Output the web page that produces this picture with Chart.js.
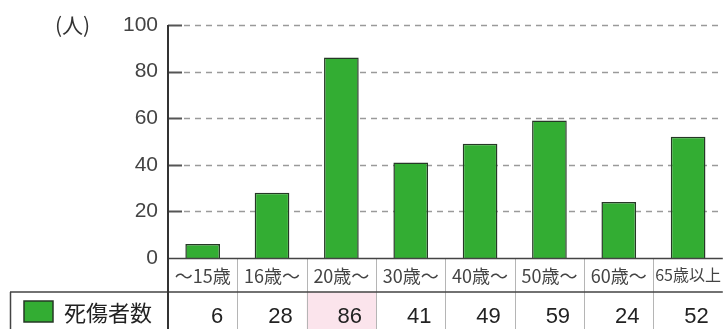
<!DOCTYPE html>
<html>
<head>
<meta charset="utf-8">
<script src="https://cdn.jsdelivr.net/npm/chart.js@4"></script>
<style>
  html, body { margin: 0; padding: 0; background: #fff; }
  #wrap { width: 728px; height: 329px; position: relative; }
</style>
</head>
<body>
<div id="wrap"><canvas id="chart" width="728" height="329"></canvas></div>
<script>
// age groups and casualty counts
const ageGroups = ['～15歳', '16歳～', '20歳～', '30歳～', '40歳～', '50歳～', '60歳～', '65歳以上'];
const casualties = [6, 28, 86, 41, 49, 59, 24, 52];
const yTicks = [0, 20, 40, 60, 80, 100];
const seriesLabel = '死傷者数';
const unitLabel = '(人)';
const highlightIndex = 2; // pink cell under 20歳～

const barGreen = '#33ad33';
const barEdge = '#263826';
const cjk = '"Noto Sans CJK JP", "Noto Sans", sans-serif';
const latin = '"Liberation Sans", Arial, sans-serif';

const tablePlugin = {
  id: 'tablePlugin',
  beforeDatasetsDraw(chart) {
    const ctx = chart.ctx;
    const area = chart.chartArea;
    const x = chart.scales.x;
    const y = chart.scales.y;
    const rowTop = area.bottom + 34;
    const H = chart.height;
    const colW = x.getPixelForValue(1) - x.getPixelForValue(0);

    ctx.save();
    // pink highlight cell
    const hx = x.getPixelForValue(highlightIndex) - colW / 2;
    ctx.fillStyle = '#fbe4ec';
    ctx.fillRect(hx, rowTop, colW, H - rowTop);

    // dashed gridlines with short solid ticks
    yTicks.forEach(v => {
      if (v === 0) return;
      const py = Math.round(y.getPixelForValue(v)) + 0.5;
      ctx.setLineDash([6, 5]);
      ctx.strokeStyle = '#9a9a9a';
      ctx.lineWidth = 1.5;
      ctx.beginPath();
      ctx.moveTo(area.left + 16, py);
      ctx.lineTo(area.right, py);
      ctx.stroke();
      ctx.setLineDash([]);
      ctx.strokeStyle = '#555';
      ctx.lineWidth = 2;
      ctx.beginPath();
      ctx.moveTo(area.left, py);
      ctx.lineTo(area.left + 14, py);
      ctx.stroke();
    });
    ctx.restore();
  },
  afterDatasetsDraw(chart) {
    const ctx = chart.ctx;
    const area = chart.chartArea;
    const x = chart.scales.x;
    const y = chart.scales.y;
    const rowTop = area.bottom + 34;
    const H = chart.height;
    const colW = x.getPixelForValue(1) - x.getPixelForValue(0);

    ctx.save();
    // vertical separators in the table rows
    ctx.strokeStyle = '#b5b5b5';
    ctx.lineWidth = 1;
    for (let i = 1; i < ageGroups.length; i++) {
      const px = Math.round(x.getPixelForValue(i) - colW / 2) + 0.5;
      ctx.beginPath();
      ctx.moveTo(px, area.bottom);
      ctx.lineTo(px, H);
      ctx.stroke();
    }

    // table horizontal borders
    ctx.strokeStyle = '#444';
    ctx.lineWidth = 1.5;
    ctx.beginPath();
    ctx.moveTo(area.left, area.bottom + 0.5);
    ctx.lineTo(area.right, area.bottom + 0.5);
    ctx.stroke();
    ctx.beginPath();
    ctx.moveTo(10, rowTop);
    ctx.lineTo(area.right, rowTop);
    ctx.moveTo(10.5, rowTop);
    ctx.lineTo(10.5, H);
    ctx.stroke();

    // y axis line through the table
    ctx.strokeStyle = '#333';
    ctx.lineWidth = 2;
    ctx.beginPath();
    ctx.moveTo(area.left, y.getPixelForValue(100));
    ctx.lineTo(area.left, H);
    ctx.stroke();

    // values row
    ctx.fillStyle = '#222';
    ctx.font = '22px ' + latin;
    ctx.textAlign = 'right';
    ctx.textBaseline = 'middle';
    casualties.forEach((v, i) => {
      const right = x.getPixelForValue(i) + colW / 2 - 14;
      ctx.fillText(String(v), right, rowTop + 25);
    });

    // legend cell
    ctx.fillStyle = barGreen;
    ctx.fillRect(24, 301, 29, 21);
    ctx.strokeStyle = barEdge;
    ctx.lineWidth = 1.5;
    ctx.strokeRect(24, 301, 29, 21);
    ctx.fillStyle = '#222';
    ctx.textAlign = 'left';
    ctx.font = '22px ' + cjk;
    ctx.fillText(seriesLabel, 64, rowTop + 21);

    // unit label
    ctx.font = '21px ' + cjk;
    ctx.fillStyle = '#333';
    ctx.fillText(unitLabel, 55, y.getPixelForValue(100));
    ctx.restore();
  }
};

new Chart(document.getElementById('chart'), {
  type: 'bar',
  data: {
    labels: ageGroups,
    datasets: [{
      label: seriesLabel,
      data: casualties,
      backgroundColor: barGreen,
      borderColor: barEdge,
      borderWidth: 1.5,
      categoryPercentage: 1,
      barPercentage: 0.5
    }]
  },
  options: {
    responsive: false,
    animation: false,
    layout: { padding: { top: 25, right: 0, left: 0, bottom: 0 } },
    plugins: { legend: { display: false }, tooltip: { enabled: false } },
    scales: {
      x: {
        grid: { display: false, drawTicks: false },
        border: { display: false },
        ticks: {
          color: '#444',
          padding: 7,
          maxRotation: 0,
          autoSkip: false,
          font: ctx => ({ family: cjk, size: ctx.index === ageGroups.length - 1 ? 16 : 18 })
        },
        afterFit: s => { s.height = 71; }
      },
      y: {
        min: 0,
        max: 100,
        afterBuildTicks: s => { s.ticks = yTicks.map(v => ({ value: v })); },
        grid: { display: false, drawTicks: false },
        border: { display: false },
        ticks: {
          color: '#444',
          padding: 10,
          font: { family: latin, size: 21 }
        },
        afterFit: s => { s.width = 168; }
      }
    }
  },
  plugins: [tablePlugin]
});
</script>
</body>
</html>
